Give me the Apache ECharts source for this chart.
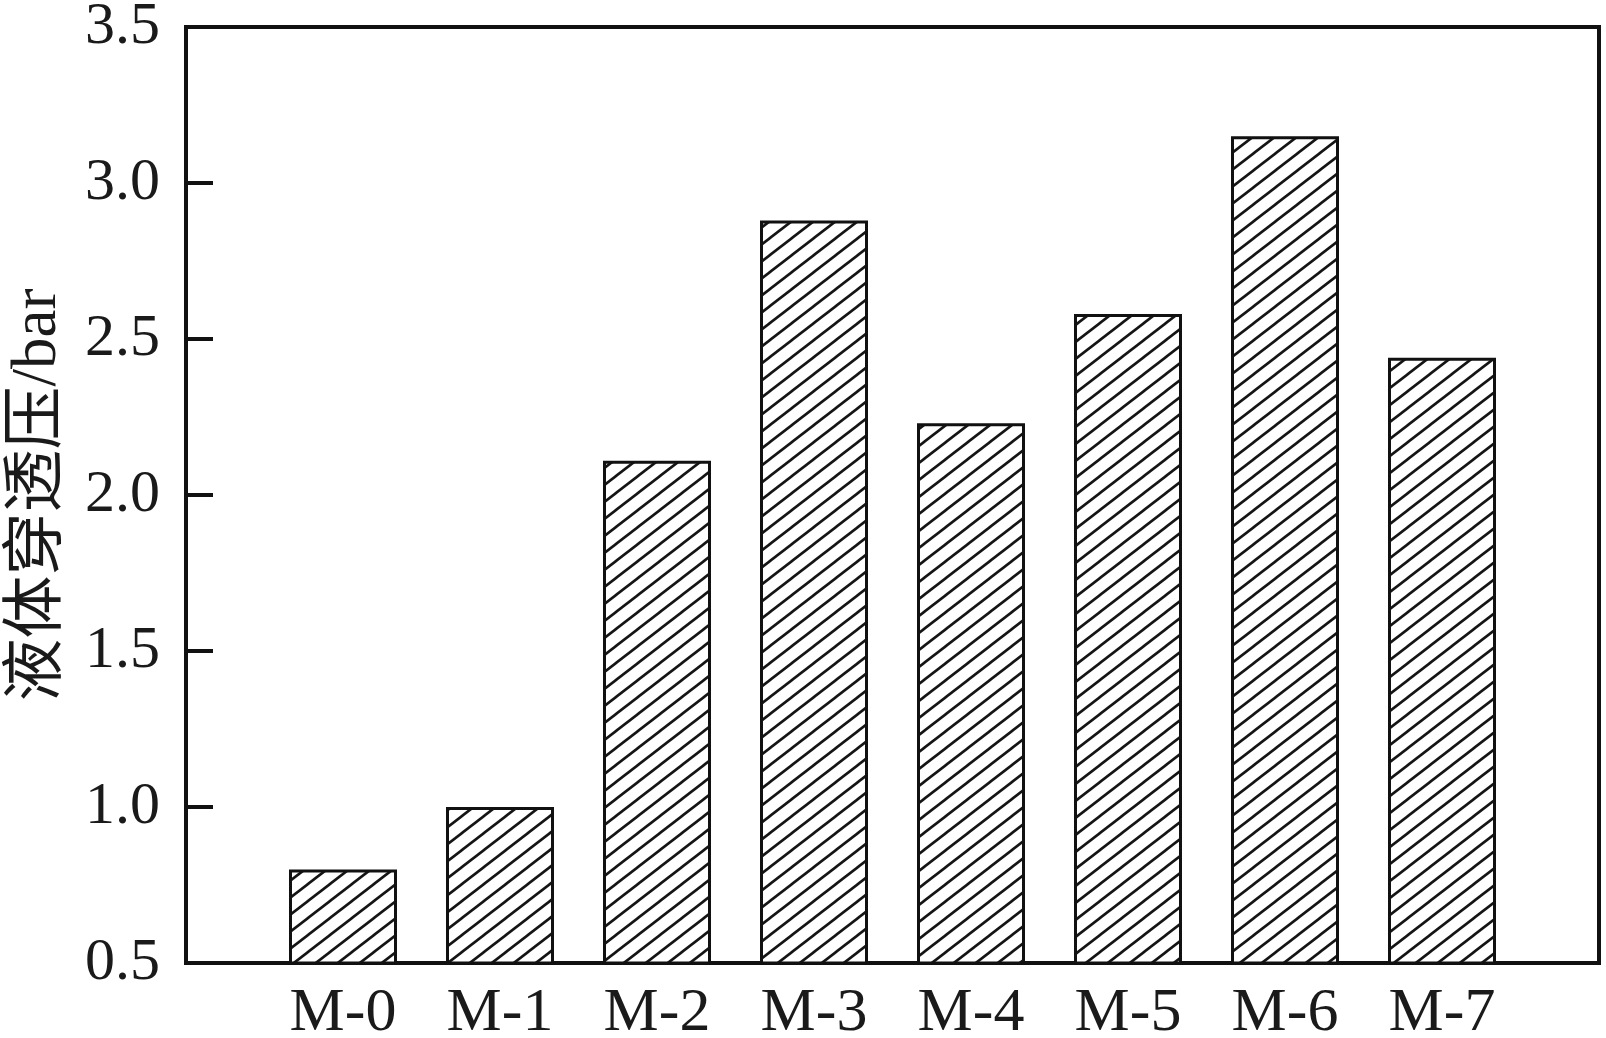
<!DOCTYPE html>
<html>
<head>
<meta charset="utf-8">
<script src="https://cdn.jsdelivr.net/npm/echarts@6/dist/echarts.min.js"></script>
<style>
html,body{margin:0;padding:0;background:#fff;}
#chart{width:1606px;height:1038px;}
</style>
</head>
<body>
<div id="chart"></div>
<script>
const categories = ['M-0','M-1','M-2','M-3','M-4','M-5','M-6','M-7'];
const values = [0.80, 1.00, 2.11, 2.88, 2.23, 2.58, 3.15, 2.44];
const yTicks = [0.5, 1.0, 1.5, 2.0, 2.5, 3.0, 3.5];
const yName = '液体穿透压/bar';

// diagonal hatch tile (lines extended past the tile so the seams join cleanly)
function makeHatch() {
  const W = 22, H = 17;
  const c = document.createElement('canvas');
  c.width = W; c.height = H;
  const g = c.getContext('2d');
  g.fillStyle = '#ffffff';
  g.fillRect(0, 0, W, H);
  g.strokeStyle = '#141414';
  g.lineWidth = 2.6;
  for (let k = -2; k <= 2; k++) {
    g.beginPath();
    g.moveTo(k * W - W, 2 * H);
    g.lineTo(k * W + 2 * W, -H);
    g.stroke();
  }
  return c;
}

const axisCats = [''].concat(categories, ['']);
const axisVals = [null].concat(values, [null]);
const font = '"Liberation Serif", "Times New Roman", serif';
const textColor = '#1a1a1a';

const chart = echarts.init(document.getElementById('chart'), null, {renderer: 'canvas'});
chart.setOption({
  backgroundColor: '#ffffff',
  animation: false,
  grid: {
    left: 186, right: 7, top: 27, bottom: 75,
    outerBoundsMode: 'none',
    containLabel: false,
    show: true, borderColor: '#111111', borderWidth: 4, backgroundColor: 'transparent'
  },
  xAxis: {
    type: 'category',
    data: axisCats,
    boundaryGap: false,
    axisLine: {show: true, lineStyle: {color: '#111111', width: 4}},
    axisTick: {show: false},
    splitLine: {show: false},
    axisLabel: {interval: 0, margin: 20, color: textColor, fontFamily: font, fontSize: 62}
  },
  yAxis: {
    type: 'value',
    min: yTicks[0], max: yTicks[yTicks.length - 1], interval: 0.5,
    name: yName,
    nameLocation: 'middle',
    nameGap: 116,
    nameRotate: 90,
    nameTextStyle: {color: textColor, fontFamily: '"Liberation Serif", "Noto Sans CJK SC", serif', fontSize: 63},
    axisLine: {show: true, lineStyle: {color: '#111111', width: 4}},
    axisTick: {show: true, inside: true, length: 27, lineStyle: {color: '#111111', width: 4}},
    splitLine: {show: false},
    axisLabel: {margin: 26, color: textColor, fontFamily: font, fontSize: 60, formatter: v => v.toFixed(1)}
  },
  series: [{
    type: 'bar',
    data: axisVals,
    barWidth: 108,
    clip: true,
    itemStyle: {color: {image: makeHatch(), repeat: 'repeat'}, borderColor: '#111111', borderWidth: 3}
  }]
});
</script>
</body>
</html>
